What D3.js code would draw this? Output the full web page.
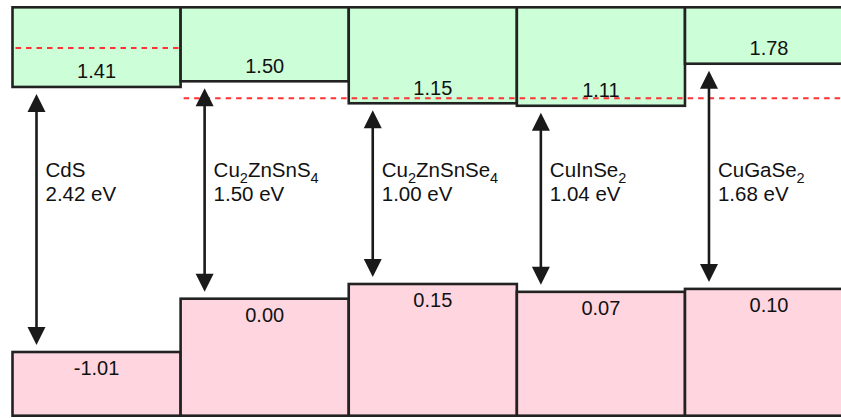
<!DOCTYPE html>
<html>
<head>
<meta charset="utf-8">
<script src="https://cdn.jsdelivr.net/npm/d3@7"></script>
<style>
  html, body { margin: 0; padding: 0; background: #fff; }
  svg { display: block; }
  text { font-family: "Liberation Sans", Arial, Helvetica, sans-serif; fill: #111; }
</style>
</head>
<body>
<svg id="chart" width="841" height="418"></svg>
<script>
// ---- data ----
const materials = ["CdS", "Cu2ZnSnS4", "Cu2ZnSnSe4", "CuInSe2", "CuGaSe2"];
const bandGaps = [2.42, 1.50, 1.00, 1.04, 1.68];
const cbEnergies = [1.41, 1.50, 1.15, 1.11, 1.78];
const vbEnergies = [-1.01, 0.00, 0.15, 0.07, 0.10];
const refLevels = [2.03, 1.23];
const refFrom = ["CdS", "Cu2ZnSnS4"];
const refTo = ["CdS", "CuGaSe2"];

// ---- layout ----
const topY = 7.3, bottomY = 415.7;
const svg = d3.select("#chart");

const x = d3.scaleBand().domain(materials).range([12.5, 853.1]).padding(0);
// schematic (not to scale) energy axes: conduction-band region and valence-band region
const yCB = d3.scaleLinear().domain([1.0, 2.0]).range([112.7, 49.9]);
const yVB = d3.scaleLinear().domain([-1.01, 0, 0.15]).range([352, 298.7, 284]);

const green = "#ccfed8", pink = "#ffd6e0", edge = "#222";

// conduction band boxes
svg.append("g").selectAll("rect").data(materials).join("rect")
  .attr("x", d => x(d))
  .attr("y", topY)
  .attr("width", x.bandwidth())
  .attr("height", (d, i) => yCB(cbEnergies[i]) - topY)
  .attr("fill", green).attr("stroke", edge).attr("stroke-width", 2.6);

// valence band boxes
svg.append("g").selectAll("rect").data(materials).join("rect")
  .attr("x", d => x(d))
  .attr("y", (d, i) => yVB(vbEnergies[i]))
  .attr("width", x.bandwidth())
  .attr("height", (d, i) => bottomY - yVB(vbEnergies[i]))
  .attr("fill", pink).attr("stroke", edge).attr("stroke-width", 2.6);

// red dashed reference lines
svg.append("g").selectAll("line").data(refLevels).join("line")
  .attr("x1", (d, i) => x(refFrom[i]) + 3)
  .attr("x2", (d, i) => x(refTo[i]) + x.bandwidth())
  .attr("y1", d => yCB(d)).attr("y2", d => yCB(d))
  .attr("stroke", "#ff3333").attr("stroke-width", 2)
  .attr("stroke-dasharray", "5.5,5");

// value labels
svg.append("g").selectAll("text").data(materials).join("text")
  .attr("x", d => x(d) + x.bandwidth() / 2)
  .attr("y", (d, i) => yCB(cbEnergies[i]) - 8.5)
  .attr("text-anchor", "middle").attr("font-size", 20)
  .text((d, i) => cbEnergies[i].toFixed(2));

svg.append("g").selectAll("text").data(materials).join("text")
  .attr("x", d => x(d) + x.bandwidth() / 2)
  .attr("y", (d, i) => yVB(vbEnergies[i]) + 23.3)
  .attr("text-anchor", "middle").attr("font-size", 20)
  .text((d, i) => vbEnergies[i].toFixed(2));

// double-headed arrows
const headW = 18, headL = 18, gap = 7;
const arrows = svg.append("g");
materials.forEach((m, i) => {
  const ax = x(m) + 24;
  const yTop = yCB(cbEnergies[i]) + gap;
  const yBot = yVB(vbEnergies[i]) - gap;
  arrows.append("line")
    .attr("x1", ax).attr("x2", ax)
    .attr("y1", yTop + headL - 1).attr("y2", yBot - headL + 1)
    .attr("stroke", "#1a1a1a").attr("stroke-width", 2.6);
  arrows.append("path")
    .attr("d", `M${ax},${yTop} L${ax - headW / 2},${yTop + headL} L${ax + headW / 2},${yTop + headL} Z`)
    .attr("fill", "#1a1a1a");
  arrows.append("path")
    .attr("d", `M${ax},${yBot} L${ax - headW / 2},${yBot - headL} L${ax + headW / 2},${yBot - headL} Z`)
    .attr("fill", "#1a1a1a");
});

// material labels with subscripts
const labels = svg.append("g");
materials.forEach((m, i) => {
  const tx = x(m) + 33;
  const t = labels.append("text").attr("x", tx).attr("y", 176.5).attr("font-size", 20.5);
  const parts = m.split(/(\d+)/).filter(s => s.length);
  let sub = false;
  parts.forEach(p => {
    const isNum = /^\d+$/.test(p);
    const ts = t.append("tspan").text(p);
    if (isNum) {
      ts.attr("font-size", 14.5).attr("dy", 6.5);
      sub = true;
    } else if (sub) {
      ts.attr("dy", -6.5);
      sub = false;
    }
  });
  labels.append("text").attr("x", tx).attr("y", 201).attr("font-size", 20.5)
    .text(bandGaps[i].toFixed(2) + " eV");
});
</script>
</body>
</html>
